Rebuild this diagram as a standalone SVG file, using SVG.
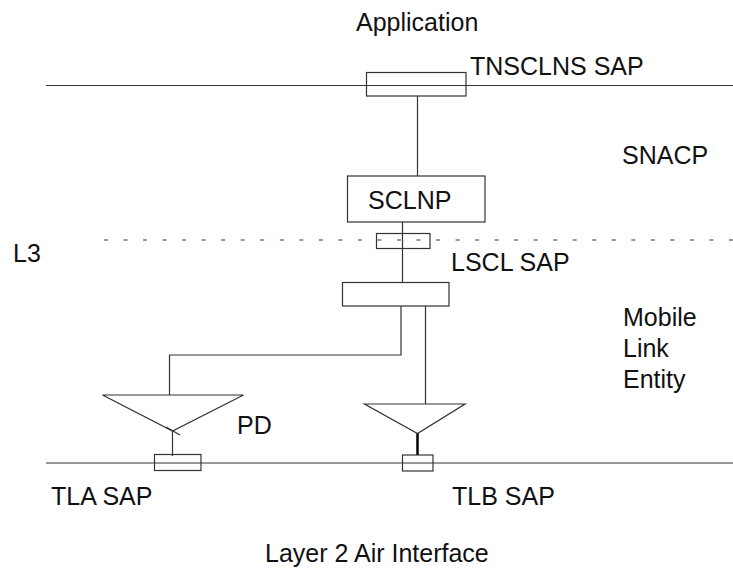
<svg xmlns="http://www.w3.org/2000/svg" width="733" height="573" viewBox="0 0 733 573">
<style>
.ln{stroke:#333;stroke-width:1.2;fill:none}
.bx{stroke:#333;stroke-width:1.2;fill:#fff}
.bxo{stroke:#333;stroke-width:1.2;fill:none}
.t{font-family:"Liberation Sans",Arial,sans-serif;font-size:25px;fill:#111}
</style>
<rect width="733" height="573" fill="#fff"/>
<g id="layers">
<line class="ln" x1="46" y1="85.5" x2="733" y2="85.5"/>
<line class="ln" x1="104" y1="240" x2="733" y2="240" stroke-dasharray="4 15.53"/>
<line class="ln" x1="46" y1="463" x2="733" y2="463"/>
</g>
<g id="connectors">
<line class="ln" x1="417.5" y1="96" x2="417.5" y2="176"/>
<line class="ln" x1="402.5" y1="222" x2="402.5" y2="282"/>
<polyline class="ln" points="401,306 401,355 169.5,355 169.5,395"/>
<line class="ln" x1="425.5" y1="306" x2="425.5" y2="404"/>
<line class="ln" x1="172.5" y1="430" x2="172.5" y2="456"/>
<line stroke="#000" stroke-width="2.5" x1="417.5" y1="433" x2="417.5" y2="455"/>
</g>
<g id="tnsclns-sap">
<rect class="bxo" x="366.5" y="72.5" width="99.5" height="23.5"/>
</g>
<g id="sclnp">
<rect class="bx" x="347.5" y="176" width="137.5" height="46"/>
<text class="t" x="368" y="209">SCLNP</text>
</g>
<g id="l3-sap">
<rect class="bxo" x="376.5" y="233.5" width="53.5" height="15"/>
</g>
<g id="lscl-sap">
<rect class="bx" x="342.5" y="282.5" width="106.5" height="23.5"/>
</g>
<g id="pd-a">
<polygon class="bx" points="102.5,395 243.5,395 172.5,431"/>
<line class="ln" x1="166" y1="427" x2="180" y2="435"/>
</g>
<g id="pd-b">
<polygon class="bx" points="364.5,404 465,404 417.5,433.5"/>
</g>
<g id="tla-sap">
<rect class="bxo" x="154.5" y="454.5" width="46.5" height="16"/>
</g>
<g id="tlb-sap">
<rect class="bxo" x="402.5" y="455" width="30.5" height="16"/>
</g>
<g id="labels">
<text class="t" x="356" y="31">Application</text>
<text class="t" x="470" y="75">TNSCLNS SAP</text>
<text class="t" x="622" y="164">SNACP</text>
<text class="t" x="13" y="262">L3</text>
<text class="t" x="451" y="271">LSCL SAP</text>
<text class="t" x="623" y="326">Mobile</text>
<text class="t" x="623" y="357">Link</text>
<text class="t" x="623" y="388">Entity</text>
<text class="t" x="237" y="434">PD</text>
<text class="t" x="51" y="505">TLA SAP</text>
<text class="t" x="452" y="505">TLB SAP</text>
<text class="t" x="265" y="562">Layer 2 Air Interface</text>
</g>
</svg>
